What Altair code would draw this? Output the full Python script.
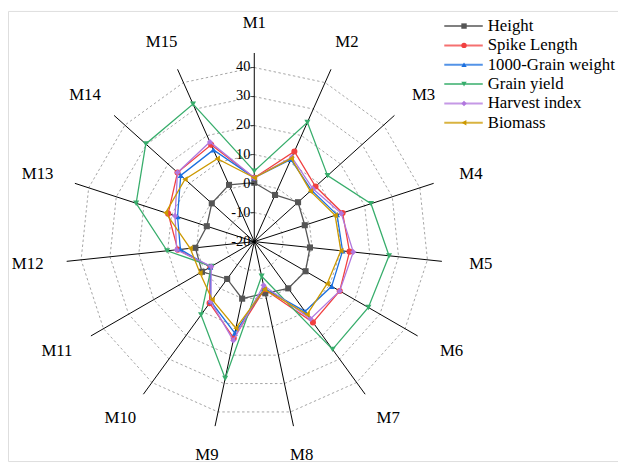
import altair as alt
import pandas as pd

# ---------------- data ----------------
axis_names = [f"M{i}" for i in range(1, 16)]
series = ["Height", "Spike Length", "1000-Grain weight", "Grain yield", "Harvest index", "Biomass"]

height_v = [0.3, -2.4, 0.3, -1.7, -0.7, 0.4, -0.1, -1.8, 0.1, -4.1, 0.8, 0.4, -2.8, -0.3, 1.4]
spike_v = [2.0, 14.0, 8.4, 12.0, 13.0, 14.0, 14.4, -3.2, 14.0, 6.2, -2.5, 6.5, 11.2, 15.6, 16.5]
grain_w_v = [2.0, 11.0, 6.5, 10.0, 10.6, 10.8, 9.7, -3.5, 12.2, 5.5, -2.5, 5.6, 7.8, 14.1, 14.6]
yield_v = [4.3, 25.0, 14.0, 22.3, 26.7, 25.4, 25.9, -7.8, 28.2, 11.2, -3.0, 10.2, 22.8, 30.3, 31.9]
harvest_v = [2.0, 11.8, 7.2, 11.5, 14.3, 14.0, 12.9, -4.6, 14.8, 5.5, -2.9, 6.9, 8.7, 15.6, 17.6]
biomass_v = [2.0, 11.4, 6.0, 9.3, 10.0, 9.0, 11.0, -3.2, 10.5, 4.7, 1.6, 2.2, 12.1, 12.1, 11.3]

values = [height_v, spike_v, grain_w_v, yield_v, harvest_v, biomass_v]
colors = ["#555555", "#F14040", "#1A6FDF", "#37AD6B", "#B177DE", "#CC9900"]
shapes = ["square", "circle", "triangle-up", "triangle-down", "diamond", "triangle-left"]

grid_levels = [-10, 0, 10, 20, 30, 40]
tick_values = [-20, -10, 0, 10, 20, 30, 40]
r_min = -20
r_axis_end = 45
label_rx = 78.5   # horizontal label radius (value units from centre)
label_ry = 75.3   # vertical label radius

# ---------------- geometry (scales) ----------------
PX = 2.94                 # pixels per value unit
W, H = 618, 456
CX, CY = 249.5, 233.7     # centre in plot pixels
xdom = [-CX / PX, (W - CX) / PX]
ydom = [-(H - CY) / PX, CY / PX]
N = len(axis_names)

X = lambda f: alt.X(f, type="quantitative", scale=alt.Scale(domain=xdom, nice=False, zero=False), axis=None)
Y = lambda f: alt.Y(f, type="quantitative", scale=alt.Scale(domain=ydom, nice=False, zero=False), axis=None)


def to_xy(ch, rexpr="datum.value - (%d)" % r_min):
    return ch.transform_calculate(
        theta=f"datum.idx * 2 * PI / {N}"
    ).transform_calculate(
        rr=rexpr
    ).transform_calculate(
        px="datum.rr * sin(datum.theta)",
        py="datum.rr * cos(datum.theta)",
    )

FONT = "Liberation Serif, Times New Roman, serif"

# grid polygons
grid_df = pd.DataFrame([{"level": lv, "idx": i, "value": lv} for lv in grid_levels for i in range(N + 1)])
grid = to_xy(alt.Chart(grid_df)).mark_line(
    color="#9a9a9a", strokeDash=[2.5, 2.5], strokeWidth=0.9
).encode(x=X("px"), y=Y("py"), detail="level:N", order="idx:Q")

# spokes
spoke_df = pd.DataFrame({"idx": list(range(N)), "value": [r_axis_end] * N})
spokes = to_xy(alt.Chart(spoke_df)).transform_calculate(zero="0").mark_rule(
    color="black", strokeWidth=1
).encode(x=X("zero"), y=Y("zero"), x2="px:Q", y2="py:Q")

# axis labels (elliptical placement)
lab_df = pd.DataFrame({"idx": list(range(N)), "name": axis_names})
labels = alt.Chart(lab_df).transform_calculate(
    theta=f"datum.idx * 2 * PI / {N}"
).transform_calculate(
    px=f"{label_rx} * sin(datum.theta)",
    py=f"{label_ry} * cos(datum.theta)",
).mark_text(
    font=FONT, fontSize=17, color="black", align="center", baseline="middle"
).encode(x=X("px"), y=Y("py"), text="name:N")

# radial tick labels and tick marks on M1 axis
tick_df = pd.DataFrame({"idx": [0] * len(tick_values), "value": tick_values, "lab": [str(t) for t in tick_values]})
tick_text = to_xy(alt.Chart(tick_df)).mark_text(
    font=FONT, fontSize=14.5, color="black", align="right", baseline="middle", dx=-4
).encode(x=X("px"), y=Y("py"), text="lab:N")
tick_marks = to_xy(alt.Chart(tick_df)).mark_tick(
    color="black", orient="horizontal", size=4, thickness=1, xOffset=-2
).encode(x=X("px"), y=Y("py"))

# series
layers = [grid, spokes]
for s, vals, col, shp in zip(series, values, colors, shapes):
    df = pd.DataFrame({"series": s, "idx": list(range(N + 1)), "value": vals + [vals[0]]})
    base = to_xy(alt.Chart(df))
    line = base.mark_line(color=col, strokeWidth=1.3).encode(x=X("px"), y=Y("py"), order="idx:Q")
    pts = base.transform_filter(f"datum.idx < {N}").mark_point(
        filled=True, color=col, shape=shp, size=38, opacity=1
    ).encode(x=X("px"), y=Y("py"))
    layers += [line, pts]

# legend (custom, line + marker)
leg_top = ydom[1] - 15.3 / PX
leg_step = 19.6 / PX
leg_df = pd.DataFrame({"series": series, "k": list(range(len(series)))})
leg_base = alt.Chart(leg_df).transform_calculate(ly=f"{leg_top} - datum.k * {leg_step}")
color_scale = alt.Scale(domain=series, range=colors)
shape_scale = alt.Scale(domain=series, range=shapes)
leg_line = leg_base.mark_rule(strokeWidth=2, opacity=0.75).encode(
    x=alt.value(442), x2=alt.value(481), y=Y("ly"),
    color=alt.Color("series:N", scale=color_scale, legend=None),
)
leg_pt = leg_base.mark_point(filled=True, size=30, opacity=1).encode(
    x=alt.value(462), y=Y("ly"),
    color=alt.Color("series:N", scale=color_scale, legend=None),
    shape=alt.Shape("series:N", scale=shape_scale, legend=None),
)
leg_txt = leg_base.mark_text(font=FONT, fontSize=17, color="black", align="left", baseline="middle").encode(
    x=alt.value(486), y=Y("ly"), text="series:N"
)

layers += [tick_marks, tick_text, labels, leg_line, leg_pt, leg_txt]

chart = alt.layer(*layers).properties(
    width=W, height=H, autosize="none", padding=0
).configure_view(stroke=None).configure(background="white")

chart.save("out.html", embed_options={"renderer": "svg", "actions": False})
